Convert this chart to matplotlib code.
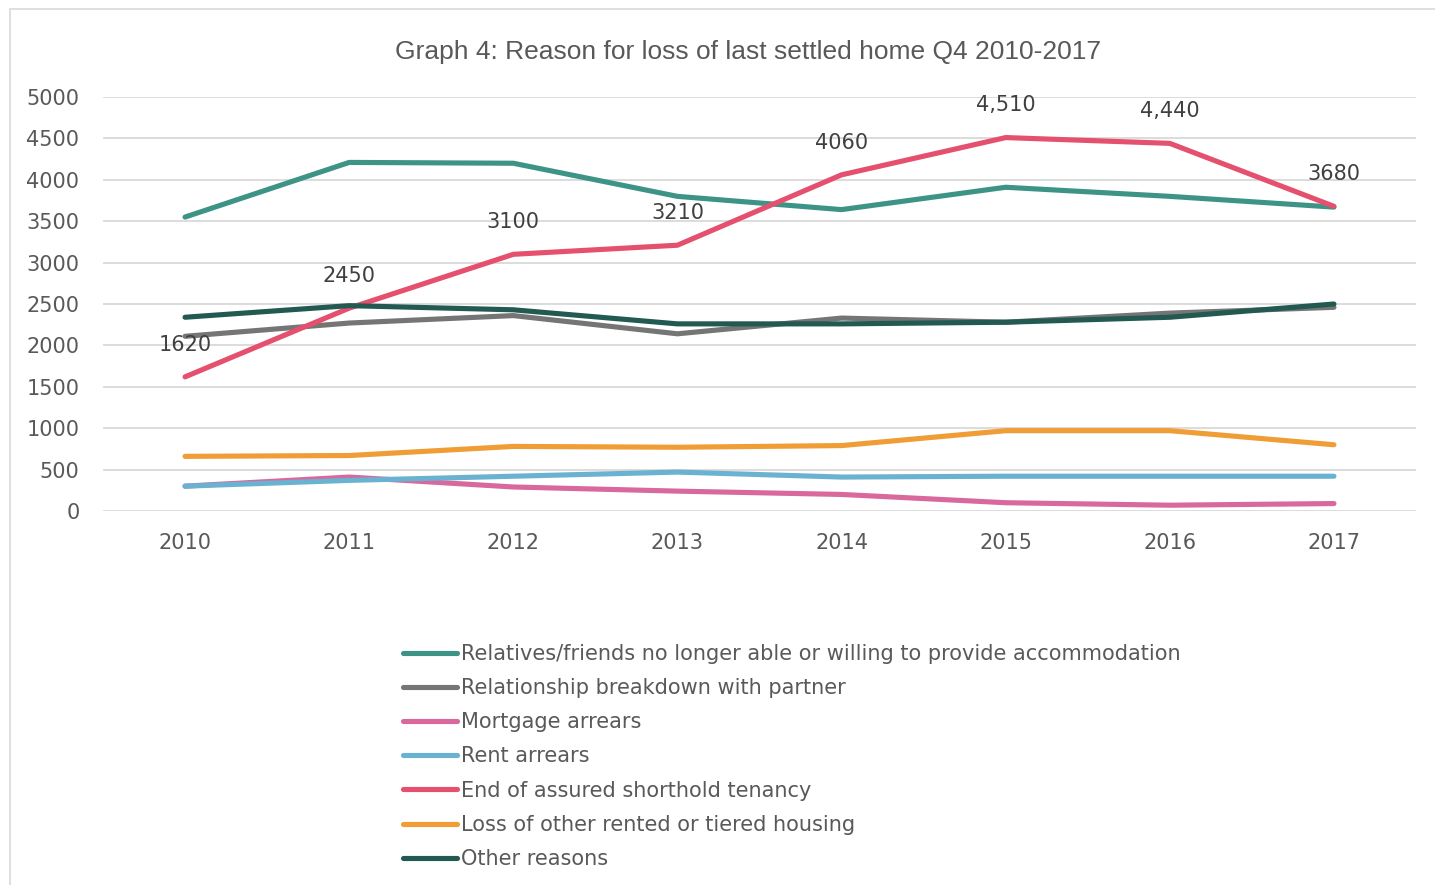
import matplotlib
matplotlib.use("Agg")
import matplotlib.pyplot as plt
from matplotlib.patches import Rectangle

years = ["2010", "2011", "2012", "2013", "2014", "2015", "2016", "2017"]

relatives = [3550, 4210, 4200, 3800, 3640, 3910, 3800, 3670]
relationship = [2110, 2270, 2360, 2140, 2330, 2280, 2390, 2460]
mortgage = [300, 410, 290, 240, 200, 100, 70, 90]
rent = [300, 370, 420, 470, 410, 420, 420, 420]
ast_end = [1620, 2450, 3100, 3210, 4060, 4510, 4440, 3680]
other_rented = [660, 670, 780, 770, 790, 970, 970, 800]
other = [2340, 2480, 2430, 2260, 2260, 2280, 2340, 2500]

ast_labels = ["1620", "2450", "3100", "3210", "4060", "4,510", "4,440", "3680"]

series_names = [
    "Relatives/friends no longer able or willing to provide accommodation",
    "Relationship breakdown with partner",
    "Mortgage arrears",
    "Rent arrears",
    "End of assured shorthold tenancy",
    "Loss of other rented or tiered housing",
    "Other reasons",
]
series_values = [relatives, relationship, mortgage, rent, ast_end, other_rented, other]
colors = ["#3d9486", "#757575", "#d9689c", "#6ab2d2", "#e5506e", "#ef9d34", "#225a51"]

W, H = 1435, 885
fig = plt.figure(figsize=(W / 100, H / 100), dpi=100)
fig.patch.set_facecolor("white")

# outer chart border
fig.add_artist(Rectangle((9.5 / W, -0.05), 1.1, 1 - 8.5 / H + 0.05,
                         transform=fig.transFigure, fill=False,
                         edgecolor="#d9d9d9", lw=1.2))

ax = fig.add_axes([103 / W, 1 - 511 / H, (1416 - 103) / W, (511 - 97) / H])
x = list(range(len(years)))

lines = []
for name, vals, c in zip(series_names, series_values, colors):
    ln, = ax.plot(x, vals, color=c, lw=3.7, solid_capstyle="round",
                  solid_joinstyle="round", label=name, zorder=3)
    lines.append(ln)

for xi, v, lab in zip(x, ast_end, ast_labels):
    ax.annotate(lab, (xi, v), xytext=(0, 16), textcoords="offset points",
                ha="center", va="bottom", fontsize=15, color="#404040",
                fontfamily="DejaVu Sans", zorder=4)

ax.set_xlim(-0.5, len(years) - 0.5)
ax.set_ylim(0, 5000)
ax.set_yticks(range(0, 5001, 500))
ax.set_xticks(x)
ax.set_xticklabels(years)
ax.grid(axis="y", color="#d9d9d9", lw=1.3, zorder=0)
ax.set_axisbelow(True)
for s in ax.spines.values():
    s.set_visible(False)
ax.tick_params(axis="both", length=0, labelsize=15, colors="#595959")
ax.tick_params(axis="y", pad=17)
ax.tick_params(axis="x", pad=16)
for lab in ax.get_xticklabels() + ax.get_yticklabels():
    lab.set_fontfamily("DejaVu Sans")

fig.text(748 / W, 1 - 52 / H, "Graph 4: Reason for loss of last settled home Q4 2010-2017",
         ha="center", va="center", fontsize=19, color="#595959",
         fontfamily="Liberation Sans")

fs = 15
fpx = fs * 100 / 72
leg = fig.legend(handles=lines, labels=series_names, loc="upper left",
                 bbox_to_anchor=(403 / W, 1 - 644 / H), frameon=False,
                 fontsize=fs, handlelength=54 / fpx, handletextpad=4 / fpx,
                 labelspacing=0.68, borderpad=0, borderaxespad=0)
for t in leg.get_texts():
    t.set_color("#595959")
    t.set_fontfamily("DejaVu Sans")

fig.savefig("out.png", dpi=100, facecolor="white")
